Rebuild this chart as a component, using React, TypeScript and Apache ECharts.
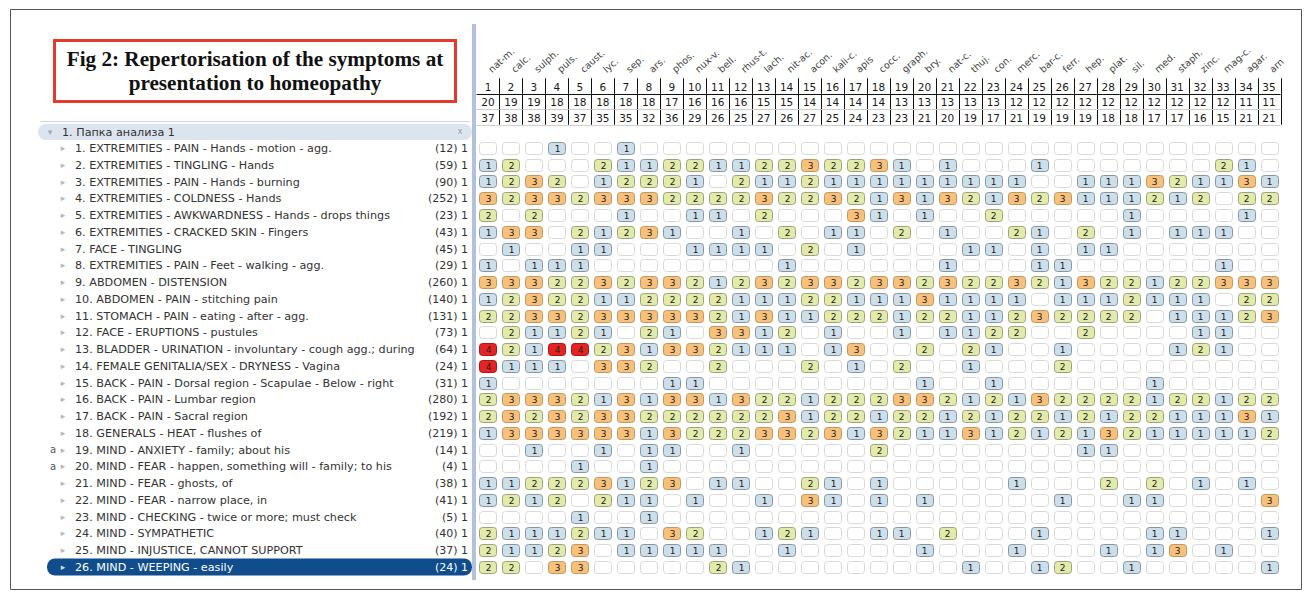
import React, { useEffect, useRef } from "react";
import * as echarts from "echarts";

// ---------- data ----------
const remedies = [
  "nat-m.", "calc.", "sulph.", "puls.", "caust.", "lyc.", "sep.", "ars.", "phos.", "nux-v.",
  "bell.", "rhus-t.", "lach.", "nit-ac.", "acon.", "kali-c.", "apis", "cocc.", "graph.", "bry.",
  "nat-c.", "thuj.", "con.", "merc.", "bar-c.", "ferr.", "hep.", "plat.", "sil.", "med.",
  "staph.", "zinc.", "mag-c.", "agar.", "arn.",
];
const hitCounts = [20, 19, 19, 18, 18, 18, 18, 18, 17, 16, 16, 16, 15, 15, 14, 14, 14, 14, 13, 13, 13, 13, 13, 12, 12, 12, 12, 12, 12, 12, 12, 12, 12, 11, 11];
const degreeSums = [37, 38, 38, 39, 37, 35, 35, 32, 36, 29, 26, 25, 27, 26, 27, 25, 24, 23, 23, 21, 20, 19, 17, 21, 19, 19, 19, 18, 18, 17, 17, 16, 15, 21, 21];

const folderTitle = "1. Папка анализа 1";
const rubrics = [
  "EXTREMITIES - PAIN - Hands - motion - agg.",
  "EXTREMITIES - TINGLING - Hands",
  "EXTREMITIES - PAIN - Hands - burning",
  "EXTREMITIES - COLDNESS - Hands",
  "EXTREMITIES - AWKWARDNESS - Hands - drops things",
  "EXTREMITIES - CRACKED SKIN - Fingers",
  "FACE - TINGLING",
  "EXTREMITIES - PAIN - Feet - walking - agg.",
  "ABDOMEN - DISTENSION",
  "ABDOMEN - PAIN - stitching pain",
  "STOMACH - PAIN - eating - after - agg.",
  "FACE - ERUPTIONS - pustules",
  "BLADDER - URINATION - involuntary - cough agg.; during",
  "FEMALE GENITALIA/SEX - DRYNESS - Vagina",
  "BACK - PAIN - Dorsal region - Scapulae - Below - right",
  "BACK - PAIN - Lumbar region",
  "BACK - PAIN - Sacral region",
  "GENERALS - HEAT - flushes of",
  "MIND - ANXIETY - family; about his",
  "MIND - FEAR - happen, something will - family; to his",
  "MIND - FEAR - ghosts, of",
  "MIND - FEAR - narrow place, in",
  "MIND - CHECKING - twice or more; must check",
  "MIND - SYMPATHETIC",
  "MIND - INJUSTICE, CANNOT SUPPORT",
  "MIND - WEEPING - easily",
];
const rubricSizes = [12, 59, 90, 252, 23, 43, 45, 29, 260, 140, 131, 73, 64, 24, 31, 280, 192, 219, 14, 4, 38, 41, 5, 40, 37, 24];
const annotatedRows = [19, 20];
const selectedRow = 26;

// degree of each remedy (columns) in each rubric (rows), 0 = absent
const scoreRows: number[][] = [
  [0,0,0,1,0,0,1,0,0,0,0,0,0,0,0,0,0,0,0,0,0,0,0,0,0,0,0,0,0,0,0,0,0,0,0],
  [1,2,0,0,0,2,1,1,2,2,1,1,2,2,3,2,2,3,1,0,1,0,0,0,1,0,0,0,0,0,0,0,2,1,0],
  [1,2,3,2,0,1,2,2,2,1,0,2,1,1,2,1,1,1,1,1,1,1,1,1,0,0,1,1,1,3,2,1,1,3,1],
  [3,2,3,3,2,3,3,3,2,2,2,2,3,2,2,3,2,1,3,1,3,2,1,3,2,3,1,1,1,2,1,2,0,2,2],
  [2,0,2,0,0,0,1,0,0,1,1,0,2,0,0,0,3,1,0,1,0,0,2,0,0,0,0,0,1,0,0,0,0,1,0],
  [1,3,3,0,2,1,2,3,1,0,0,1,0,2,0,1,1,0,2,0,1,0,0,2,1,0,2,0,1,0,1,1,1,0,0],
  [0,1,0,0,1,1,0,0,0,1,1,1,1,0,2,0,1,0,0,0,0,1,1,0,1,0,1,1,0,0,0,0,0,0,0],
  [1,0,1,1,1,0,0,0,0,0,0,0,0,1,0,0,0,0,0,0,1,0,0,0,1,1,0,0,0,0,0,0,1,0,0],
  [3,3,3,2,2,3,2,3,3,2,1,2,3,2,3,3,2,3,3,2,3,2,2,3,2,1,3,2,2,1,2,2,3,3,3],
  [1,2,3,2,2,1,1,2,2,2,2,1,1,1,2,2,1,1,1,3,1,1,1,1,0,1,1,1,2,1,1,1,0,2,2],
  [2,2,3,3,2,3,3,3,3,3,2,1,3,1,1,2,2,2,1,2,2,1,1,2,3,2,2,2,2,0,1,1,1,2,3],
  [0,2,1,1,2,1,0,2,1,0,3,3,1,2,0,1,0,0,1,0,1,1,2,2,0,0,2,0,0,0,0,1,1,0,0],
  [4,2,1,4,4,2,3,1,3,3,2,1,1,1,0,1,3,0,0,2,0,2,1,0,0,1,0,0,0,0,1,2,1,0,0],
  [4,1,1,1,0,3,3,2,0,0,2,0,0,0,2,0,1,0,2,0,0,1,0,0,0,2,0,0,0,0,0,0,0,0,0],
  [1,0,0,0,0,0,0,0,1,1,0,0,0,0,0,0,0,0,0,1,0,0,1,0,0,0,0,0,0,1,0,0,0,0,0],
  [2,3,3,3,2,1,3,1,3,3,1,3,2,2,1,2,2,2,3,3,2,1,2,1,3,2,2,2,2,1,2,2,1,2,2],
  [2,3,2,3,2,3,3,2,2,2,2,2,2,3,1,2,2,1,2,2,1,2,1,2,2,1,2,1,2,2,1,1,1,3,1],
  [1,3,3,3,3,3,3,1,3,2,2,2,3,3,2,3,1,3,2,1,1,3,1,2,1,2,1,3,2,1,1,1,1,1,2],
  [0,0,1,0,0,1,0,1,1,0,0,1,0,0,0,0,0,2,0,0,0,0,0,0,0,0,1,1,0,0,0,0,0,0,0],
  [0,0,0,0,1,0,0,1,0,0,0,0,0,0,0,0,0,0,0,0,0,0,0,0,0,0,0,0,0,0,0,0,0,0,0],
  [1,1,2,2,2,3,1,2,3,0,1,1,0,0,2,1,0,1,0,0,0,0,0,1,0,0,0,2,0,2,0,1,0,1,0],
  [1,2,1,2,0,2,1,1,0,1,0,0,1,0,3,1,0,1,0,1,0,0,0,0,0,1,0,0,1,1,0,0,0,0,3],
  [0,0,0,0,1,0,0,1,0,0,0,0,0,0,0,0,0,0,0,0,0,0,0,0,0,0,0,0,0,0,0,0,0,0,0],
  [2,1,1,1,2,1,1,0,3,2,0,0,1,2,1,0,0,1,1,0,2,0,0,0,1,0,0,0,0,1,1,0,0,0,1],
  [2,1,1,2,3,0,1,1,1,1,1,0,0,1,0,0,0,0,0,1,0,0,0,1,0,0,0,1,0,1,3,0,1,0,0],
  [2,2,0,3,3,0,0,0,0,0,2,1,0,0,0,0,0,0,0,0,0,1,0,0,1,2,0,0,1,0,0,0,0,0,1],
];

// ---------- styling ----------
const FONT = '"DejaVu Sans", Verdana, sans-serif';
const cellColors: Record<number, { fill: string; stroke: string; text: string }> = {
  0: { fill: "#ffffff", stroke: "#d9d9d9", text: "#222" },
  1: { fill: "#cddfeb", stroke: "#8796a3", text: "#222" },
  2: { fill: "#e3ebab", stroke: "#9da27c", text: "#222" },
  3: { fill: "#f7c07b", stroke: "#c39661", text: "#222" },
  4: { fill: "#e62222", stroke: "#a81616", text: "#222" },
};

const GRID_LEFT = 476.5;
const GRID_W = 804;
const ROW_TOP = 139.6;
const ROW_H = 16.76;
const LABEL_FONT = `11.2px ${FONT}`;

export default function App() {
  const ref = useRef<HTMLDivElement>(null);

  useEffect(() => {
    if (!ref.current) return;
    const chart = echarts.init(ref.current, undefined, { renderer: "svg" });

    const colIdx = remedies.map((_, i) => i);
    const rowIdx = rubrics.map((_, i) => i);

    const cellData: number[][] = [];
    scoreRows.forEach((row, r) => row.forEach((v, c) => cellData.push([c, r, v])));

    const headerData: number[][] = [];
    remedies.forEach((_, c) => {
      headerData.push([c, 0, c + 1]);
      headerData.push([c, 1, hitCounts[c]]);
      headerData.push([c, 2, degreeSums[c]]);
    });

    const colW = GRID_W / remedies.length;

    const option: any = {
      animation: false,
      grid: [
        { left: GRID_LEFT, top: ROW_TOP, width: GRID_W, height: ROW_H * rubrics.length },
        { left: 30, top: ROW_TOP, width: 445, height: ROW_H * rubrics.length },
        { left: GRID_LEFT, top: 78.25, width: GRID_W, height: 46.5 },
      ],
      xAxis: [
        { type: "category", data: colIdx, gridIndex: 0, show: false },
        { type: "value", min: 0, max: 1, gridIndex: 1, show: false },
        { type: "category", data: colIdx, gridIndex: 2, show: false },
      ],
      yAxis: [
        { type: "category", data: rowIdx, inverse: true, gridIndex: 0, show: false },
        { type: "category", data: rowIdx, inverse: true, gridIndex: 1, show: false },
        { type: "category", data: [0, 1, 2], inverse: true, gridIndex: 2, show: false },
      ],
      series: [
        {
          type: "custom",
          xAxisIndex: 0,
          yAxisIndex: 0,
          data: cellData,
          renderItem: (_p: any, api: any) => {
            const c = api.value(0);
            const r = api.value(1);
            const v = api.value(2);
            const [x, y] = api.coord([c, r]);
            const w = 17, h = 12;
            const st = cellColors[v];
            const children: any[] = [
              {
                type: "rect",
                shape: { x: Math.round(x - w / 2) + 0.5, y: Math.round(y - h / 2) + 0.5, width: w, height: h, r: 3 },
                style: { fill: st.fill, stroke: st.stroke, lineWidth: 1 },
              },
            ];
            if (v > 0) {
              children.push({
                type: "text",
                style: {
                  text: String(v), x: Math.round(x) + 0.5, y: Math.round(y) + 1,
                  align: "center", verticalAlign: "middle",
                  fill: st.text, font: `9px ${FONT}`,
                },
              });
            }
            return { type: "group", children };
          },
        },
        {
          type: "custom",
          xAxisIndex: 1,
          yAxisIndex: 1,
          data: rowIdx.map((r) => [0, r]),
          renderItem: (_p: any, api: any) => {
            const r = api.value(1);
            const [x0, y] = api.coord([0, r]);
            const n = r + 1;
            const sel = n === selectedRow;
            const children: any[] = [];
            if (sel) {
              children.push({
                type: "rect",
                shape: { x: x0 + 17, y: y - 8.5, width: 425, height: 17, r: 8 },
                style: { fill: "#0f4d8c" },
              });
            }
            if (annotatedRows.includes(n)) {
              children.push({
                type: "text",
                style: { text: "a", x: x0 + 23, y, align: "center", verticalAlign: "middle", fill: "#555", font: `10px ${FONT}` },
              });
            }
            children.push({
              type: "text",
              style: { text: "▸", x: x0 + 33, y, align: "center", verticalAlign: "middle", fill: sel ? "#c9d6e8" : "#b8b8b8", font: `9px ${FONT}` },
            });
            children.push({
              type: "text",
              style: {
                text: `${n}. ${rubrics[r]}`, x: x0 + 45, y: y + 0.5, align: "left", verticalAlign: "middle",
                fill: sel ? "#ffffff" : "#333333", font: LABEL_FONT,
              },
            });
            children.push({
              type: "text",
              style: {
                text: `(${rubricSizes[r]}) 1`, x: x0 + 438, y: y + 0.5, align: "right", verticalAlign: "middle",
                fill: sel ? "#ffffff" : "#333333", font: `11px ${FONT}`,
              },
            });
            return { type: "group", children };
          },
        },
        {
          type: "custom",
          xAxisIndex: 2,
          yAxisIndex: 2,
          data: headerData,
          renderItem: (_p: any, api: any) => {
            const c = api.value(0);
            const r = api.value(1);
            const v = api.value(2);
            const [x, y] = api.coord([c, r]);
            const rh = 15.5;
            const children: any[] = [
              {
                type: "text",
                style: { text: String(v), x: x, y: y + 0.5, align: "center", verticalAlign: "middle", fill: "#1a1a1a", font: `10.5px ${FONT}` },
              },
              {
                type: "line",
                shape: { x1: Math.round(x + colW / 2) + 0.5, y1: y - rh / 2, x2: Math.round(x + colW / 2) + 0.5, y2: y + rh / 2 },
                style: { stroke: "#111", lineWidth: 1 },
              },
              {
                type: "line",
                shape: { x1: x - colW / 2, y1: Math.round(y + rh / 2) + 0.5, x2: x + colW / 2, y2: Math.round(y + rh / 2) + 0.5 },
                style: { stroke: r === 0 ? "#111" : "#cfcfcf", lineWidth: 1 },
              },
            ];
            if (r === 0) {
              children.push({
                type: "text",
                x: x + 5,
                y: y - rh / 2 - 4,
                rotation: (42 * Math.PI) / 180,
                style: { text: remedies[c], x: 0, y: 0, align: "left", verticalAlign: "bottom", fill: "#444", font: `9.5px ${FONT}` },
              });
            }
            return { type: "group", children };
          },
        },
      ],
      graphic: [
        { type: "rect", z: 0, shape: { x: 10.5, y: 9.5, width: 1291, height: 580 }, style: { fill: "none", stroke: "#555", lineWidth: 1 } },
        { type: "rect", z: 10, shape: { x: 1284, y: 28, width: 16, height: 50 }, style: { fill: "#ffffff" } },
        { type: "rect", z: 10, shape: { x: 54.5, y: 40.5, width: 401, height: 61 }, style: { fill: "#ffffff", stroke: "#e5392c", lineWidth: 3 } },
        { type: "text", z: 11, style: { text: "Fig 2: Repertorisation of the symptoms at", x: 255, y: 59, align: "center", verticalAlign: "middle", fill: "#111", font: `bold 21.2px "Liberation Serif", "Times New Roman", serif` } },
        { type: "text", z: 11, style: { text: "presentation to homeopathy", x: 255, y: 83, align: "center", verticalAlign: "middle", fill: "#111", font: `bold 21.2px "Liberation Serif", "Times New Roman", serif` } },
        { type: "rect", z: 5, shape: { x: 472, y: 24, width: 4, height: 556 }, style: { fill: "#b3c1dc" } },
        { type: "line", z: 5, shape: { x1: 40, y1: 121.5, x2: 470, y2: 121.5 }, style: { stroke: "#d4d4d4", lineWidth: 1 } },
        { type: "rect", z: 5, shape: { x: 38, y: 124, width: 434, height: 16, r: 8 }, style: { fill: "#dce4f0" } },
        { type: "text", z: 6, style: { text: "▾", x: 50, y: 132, align: "center", verticalAlign: "middle", fill: "#a0a8b8", font: `9px ${FONT}` } },
        { type: "text", z: 6, style: { text: folderTitle, x: 62, y: 132.5, align: "left", verticalAlign: "middle", fill: "#333", font: LABEL_FONT } },
        { type: "text", z: 6, style: { text: "x", x: 460, y: 131.5, align: "center", verticalAlign: "middle", fill: "#999", font: `8px ${FONT}` } },
      ],
    };

    chart.setOption(option);
    return () => chart.dispose();
  }, []);

  return (
    <div
      ref={ref}
      style={{ position: "fixed", left: 0, top: 0, width: 1311, height: 597, background: "#ffffff" }}
    />
  );
}
